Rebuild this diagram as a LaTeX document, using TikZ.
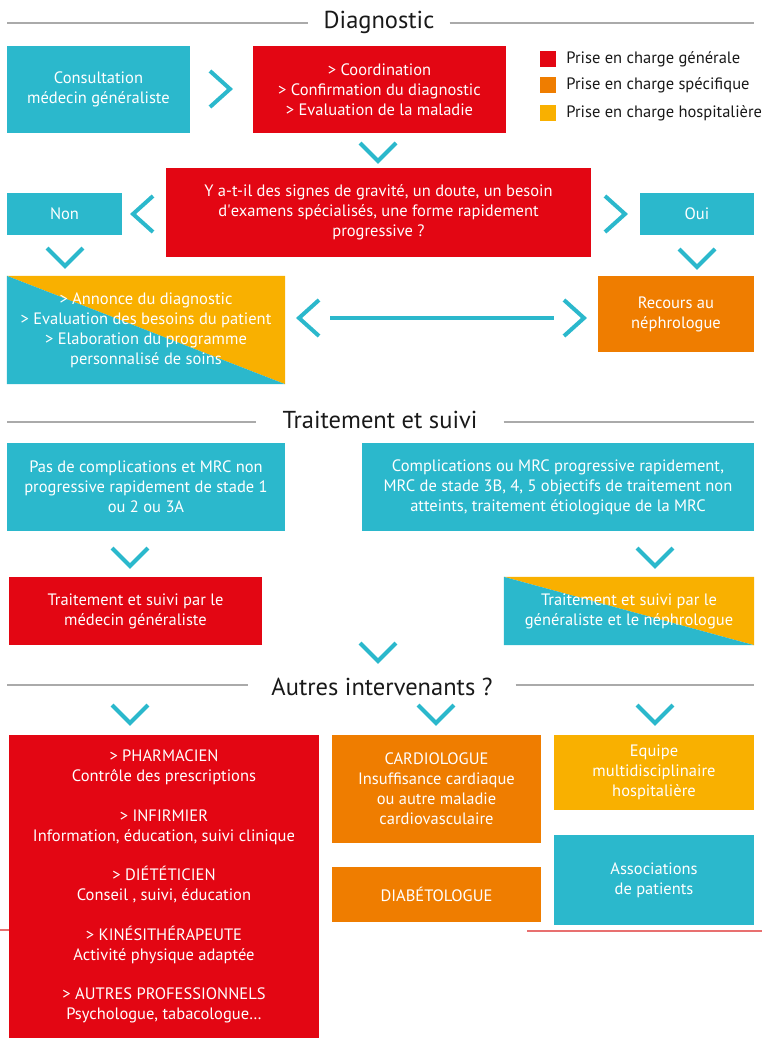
\documentclass[tikz,border=0pt]{standalone}
\usepackage{fontspec}
\setmainfont{PT Sans}
\usetikzlibrary{positioning,backgrounds}
\definecolor{CareCyan}{RGB}{43,184,204}
\definecolor{CareRed}{RGB}{227,6,19}
\definecolor{CareOrange}{RGB}{239,125,0}
\definecolor{CareYellow}{RGB}{249,176,0}
\definecolor{RuleGray}{RGB}{170,170,170}
\definecolor{ScrapRed}{RGB}{232,112,112}
\tikzset{
  box/.style={inner sep=2pt, align=center, text=white,
    font=\fontsize{16.5}{20}\selectfont},
  dims/.style 2 args={minimum width=#1pt, minimum height=#2pt},
  cyanbox/.style={box, fill=CareCyan},
  redbox/.style={box, fill=CareRed},
  orangebox/.style={box, fill=CareOrange},
  yellowbox/.style={box, fill=CareYellow},
  chev/.style={draw=CareCyan, line width=4pt},
  rule/.style={draw=RuleGray, line width=2pt},
  sectitle/.style={font=\fontsize{24.5}{28}\selectfont, text=black!90},
  sq/.style={minimum size=16pt, inner sep=0pt},
  legtext/.style={inner sep=0pt, font=\fontsize{16.5}{20}\selectfont, text=black!90}
}
\begin{document}
\begin{tikzpicture}[x=1pt,y=-1pt]
  \useasboundingbox (0,0) rectangle (762,1039);
  % section titles
  \node[sectitle, inner xsep=15pt] (tdiag) at (379,22) {Diagnostic};
  \draw[rule] (7,23) -- (tdiag.west |- 0,23);
  \draw[rule] (tdiag.east |- 0,23) -- (754,23);
  \node[sectitle, inner xsep=26pt] (ttrait) at (380,420) {Traitement et suivi};
  \draw[rule] (7,422) -- (ttrait.west |- 0,422);
  \draw[rule] (ttrait.east |- 0,422) -- (754,422);
  \node[sectitle, inner xsep=23pt] (tautres) at (382,687) {Autres intervenants ?};
  \draw[rule] (7,685) -- (tautres.west |- 0,685);
  \draw[rule] (tautres.east |- 0,685) -- (754,685);

  % legend
  \node[sq, fill=CareRed] (sqgen) at (548,59) {};
  \node[legtext, right=10pt of sqgen] (leggen) {Prise en charge générale};
  \node[sq, fill=CareOrange] (sqspe) at (548,85) {};
  \node[legtext, right=10pt of sqspe] (legspe) {Prise en charge spécifique};
  \node[sq, fill=CareYellow] (sqhos) at (548,113) {};
  \node[legtext, right=10pt of sqhos] (leghos) {Prise en charge hospitalière};

  % diagnostic
  \node[cyanbox, dims={183}{87}] (consult) at (98.5,89.5)
    {Consultation\\médecin généraliste};
  \node[redbox, dims={253}{87}] (coord) at (379.5,89.5)
    {> Coordination\\> Confirmation du diagnostic\\> Evaluation de la maladie};
  \node[redbox, dims={425}{89}] (question) at (378.5,212.5)
    {Y a-t-il des signes de gravité, un doute, un besoin\\d\textquotesingle examens spécialisés, une forme rapidement\\progressive ?};
  \node[cyanbox, dims={115}{42}] (non) at (64.5,214) {Non};
  \node[cyanbox, dims={114}{42}] (oui) at (697,214) {Oui};
  \node[box, dims={278}{108}] (annonce) at (146,330)
    {> Annonce du diagnostic\\> Evaluation des besoins du patient\\> Elaboration du programme\\personnalisé de soins};
  \node[orangebox, dims={156}{76}] (recours) at (676,314)
    {Recours au\\néphrologue};

  % traitement et suivi
  \node[cyanbox, dims={278}{88}] (simple) at (146,487)
    {Pas de complications et MRC non\\progressive rapidement de stade 1\\ou 2 ou 3A};
  \node[cyanbox, dims={392}{88}] (complexe) at (558,487)
    {Complications ou MRC progressive rapidement,\\MRC de stade 3B, 4, 5 objectifs de traitement non\\atteints, traitement étiologique de la MRC};
  \node[redbox, dims={253}{68}] (suivimg) at (135.5,611)
    {Traitement et suivi par le\\médecin généraliste};
  \node[box, dims={250}{68}] (suivineph) at (629,611)
    {Traitement et suivi par le\\généraliste et le néphrologue};

  % split fills
  \begin{scope}[on background layer]
    \foreach \n in {annonce,suivineph}{
      \fill[CareYellow] (\n.north west) -- (\n.north east) -- (\n.south east) -- cycle;
      \fill[CareCyan] (\n.north west) -- (\n.south west) -- (\n.south east) -- cycle;
    }
  \end{scope}

  % autres intervenants
  \node[redbox, dims={310}{303}] (pros) at (164,886.5)
    {> PHARMACIEN\\Contrôle des prescriptions\\[19.5pt]
     > INFIRMIER\\Information, éducation, suivi clinique\\[19.5pt]
     > DIÉTÉTICIEN\\Conseil , suivi, éducation\\[19.5pt]
     > KINÉSITHÉRAPEUTE\\Activité physique adaptée\\[19.5pt]
     > AUTRES PROFESSIONNELS\\Psychologue, tabacologue…};
  \node[orangebox, dims={209}{108}] (cardio) at (436.5,789)
    {CARDIOLOGUE\\Insuffisance cardiaque\\ou autre maladie\\cardiovasculaire};
  \node[orangebox, dims={209}{55}] (diabeto) at (436.5,894.5) {DIABÉTOLOGUE};
  \node[yellowbox, dims={200}{75}] (equipe) at (654,772.5)
    {Equipe\\multidisciplinaire\\hospitalière};
  \node[cyanbox, dims={200}{90}] (assoc) at (654,880)
    {Associations\\de patients};

  % chevrons
  \foreach \x/\y in {220/89,615/214,574/318}
    \draw[chev] (\x-10,\y-18) -- (\x+10,\y) -- (\x-10,\y+18);
  \foreach \x/\y in {143/214,309/318}
    \draw[chev] (\x+10,\y-18) -- (\x-10,\y) -- (\x+10,\y+18);
  \foreach \x/\y in {378/152,65/257,697/258,130/557,655/557,378/652,130/714,436/714,655/714}
    \draw[chev] (\x-18,\y-9) -- (\x,\y+9) -- (\x+18,\y-9);
  \coordinate (linkl) at (330,318);
  \coordinate (linkr) at (554,318);
  \draw[chev] (linkl) -- (linkr);

  % stray red rules
  \draw[ScrapRed, line width=1.5pt] (0,930) -- (9,930);
  \draw[ScrapRed, line width=1.5pt] (527,931) -- (762,931);
\end{tikzpicture}
\end{document}
